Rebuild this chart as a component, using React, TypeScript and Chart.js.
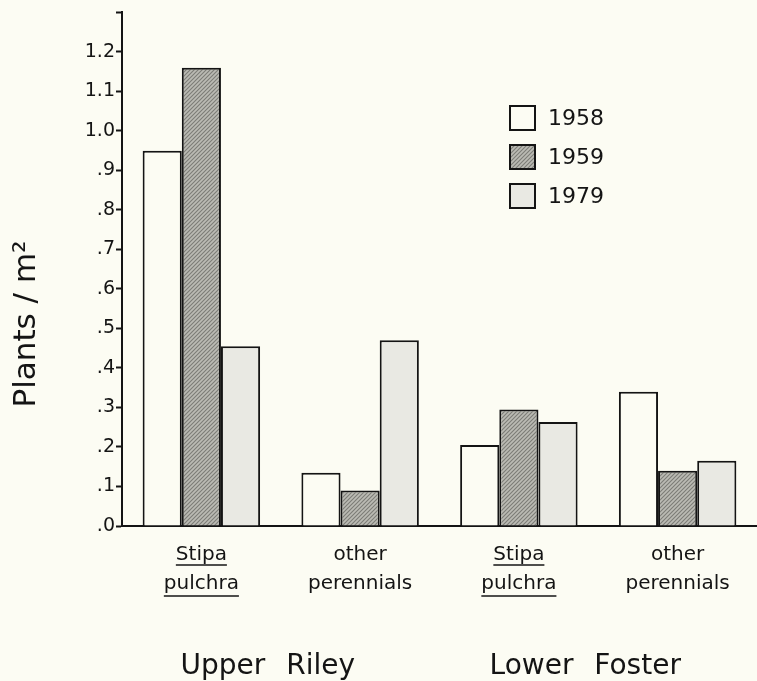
import React, { useEffect, useRef } from 'react';
import { Chart, registerables } from 'chart.js';

Chart.register(...registerables);

// ---- data ----
const categories: string[][] = [
  ['Stipa', 'pulchra'],
  ['other', 'perennials'],
  ['Stipa', 'pulchra'],
  ['other', 'perennials'],
];
const underlinedCategories = [true, false, true, false];
const sites = ['Upper Riley', 'Lower Foster'];
const siteCategoryPairs = [
  [0, 1],
  [2, 3],
];
const seriesLabels = ['1958', '1959', '1979'];
const values1958 = [0.95, 0.135, 0.205, 0.34];
const values1959 = [1.16, 0.09, 0.295, 0.14];
const values1979 = [0.455, 0.47, 0.263, 0.165];
const yTickLabels = ['.0', '.1', '.2', '.3', '.4', '.5', '.6', '.7', '.8', '.9', '1.0', '1.1', '1.2', ''];
const yAxisTitle = 'Plants / m²';

// ---- style ----
const FONT = '"DejaVu Sans", "Noto Sans", sans-serif';
const BG = '#fcfcf3';
const INK = '#141414';

function makeHatch(): CanvasPattern | string {
  const c = document.createElement('canvas');
  c.width = 4;
  c.height = 4;
  const g = c.getContext('2d');
  if (!g) return '#aaaaa4';
  g.fillStyle = '#bbbbb4';
  g.fillRect(0, 0, 4, 4);
  g.strokeStyle = '#7c7c77';
  g.lineWidth = 1.1;
  g.beginPath();
  g.moveTo(-1, 5);
  g.lineTo(5, -1);
  g.moveTo(-1, 1);
  g.lineTo(1, -1);
  g.moveTo(3, 5);
  g.lineTo(5, 3);
  g.stroke();
  return g.createPattern(c, 'repeat') || '#aaaaa4';
}

const decorPlugin = {
  id: 'decor',
  beforeDraw(chart: any) {
    const ctx = chart.ctx;
    ctx.save();
    ctx.fillStyle = BG;
    ctx.fillRect(0, 0, chart.width, chart.height);
    ctx.restore();
  },
  afterDraw(chart: any) {
    const ctx: CanvasRenderingContext2D = chart.ctx;
    const xs = chart.scales.x;
    ctx.save();
    ctx.fillStyle = INK;
    ctx.strokeStyle = INK;

    // y-axis title
    ctx.save();
    ctx.translate(27, 324);
    ctx.rotate(-Math.PI / 2);
    ctx.font = `31px ${FONT}`;
    ctx.textAlign = 'center';
    ctx.textBaseline = 'middle';
    ctx.fillText(yAxisTitle, 0, 0);
    ctx.restore();

    // underlines on tick labels
    const tickFontSize = 20;
    const lineH = 29;
    const pad = 14.5;
    ctx.font = `${tickFontSize}px ${FONT}`;
    ctx.lineWidth = 1.6;
    categories.forEach((lines, i) => {
      if (!underlinedCategories[i]) return;
      const cx = xs.getPixelForTick(i);
      lines.forEach((t, k) => {
        const w = ctx.measureText(t).width;
        const y = xs.top + pad + lineH * (k + 0.5) + (k === 0 ? 10 : 12);
        ctx.beginPath();
        ctx.moveTo(cx - w / 2, y);
        ctx.lineTo(cx + w / 2, y);
        ctx.stroke();
      });
    });

    // site labels
    ctx.font = `28px ${FONT}`;
    ctx.textAlign = 'center';
    ctx.textBaseline = 'alphabetic';
    (ctx as any).wordSpacing = '12px';
    sites.forEach((s, i) => {
      const [a, b] = siteCategoryPairs[i];
      const cx = (xs.getPixelForTick(a) + xs.getPixelForTick(b)) / 2 - 13;
      ctx.fillText(s, cx, 674);
    });
    (ctx as any).wordSpacing = '0px';

    // legend
    const lx = 510;
    const ly = 106;
    const step = 39;
    ctx.font = `22px ${FONT}`;
    ctx.textAlign = 'left';
    ctx.textBaseline = 'middle';
    chart.data.datasets.forEach((ds: any, i: number) => {
      const y = ly + i * step;
      ctx.fillStyle = ds.backgroundColor;
      ctx.fillRect(lx, y, 25, 24);
      ctx.lineWidth = 2;
      ctx.strokeStyle = INK;
      ctx.strokeRect(lx, y, 25, 24);
      ctx.fillStyle = INK;
      ctx.fillText(ds.label, lx + 38, y + 13);
    });

    ctx.restore();
  },
};

export default function App() {
  const ref = useRef<HTMLCanvasElement | null>(null);

  useEffect(() => {
    if (!ref.current) return;
    const hatch = makeHatch();
    const fills = [BG, hatch, '#e9e9e3'];
    const seriesValues = [values1958, values1959, values1979];
    const chart = new Chart(ref.current, {
      type: 'bar',
      data: {
        labels: categories,
        datasets: seriesLabels.map((label, i) => ({
          label,
          data: seriesValues[i],
          backgroundColor: fills[i] as any,
          borderColor: INK,
          borderWidth: 2,
          borderSkipped: 'start',
          barPercentage: 1,
          categoryPercentage: 0.74,
        })),
      },
      options: {
        responsive: true,
        maintainAspectRatio: false,
        animation: false,
        layout: { padding: { top: 6, left: 0, right: 0, bottom: 0 } },
        plugins: {
          legend: { display: false },
          tooltip: { enabled: false },
        },
        scales: {
          x: {
            type: 'category',
            offset: true,
            grid: { display: false, drawTicks: false },
            border: { display: true, color: INK, width: 2 },
            ticks: {
              color: INK,
              font: { family: FONT, size: 20, lineHeight: 1.45 },
              padding: 14.5,
              maxRotation: 0,
              autoSkip: false,
            },
            afterFit: (s: any) => {
              s.height = 155;
            },
          },
          y: {
            min: 0,
            max: 1.3,
            grid: {
              display: true,
              drawOnChartArea: false,
              drawTicks: true,
              tickLength: 6,
              tickColor: INK,
              tickWidth: 2,
            },
            border: { display: true, color: INK, width: 2 },
            ticks: {
              stepSize: 0.1,
              color: INK,
              font: { family: FONT, size: 19 },
              padding: 1,
              autoSkip: false,
              callback: (_v: any, i: number) => yTickLabels[i] ?? '',
            },
            afterFit: (s: any) => {
              s.width = 122;
            },
          },
        },
      },
      plugins: [decorPlugin],
    });
    return () => chart.destroy();
  }, []);

  return (
    <div style={{ position: 'absolute', left: 0, top: 0, width: 757, height: 681, background: BG }}>
      <canvas ref={ref} />
    </div>
  );
}
